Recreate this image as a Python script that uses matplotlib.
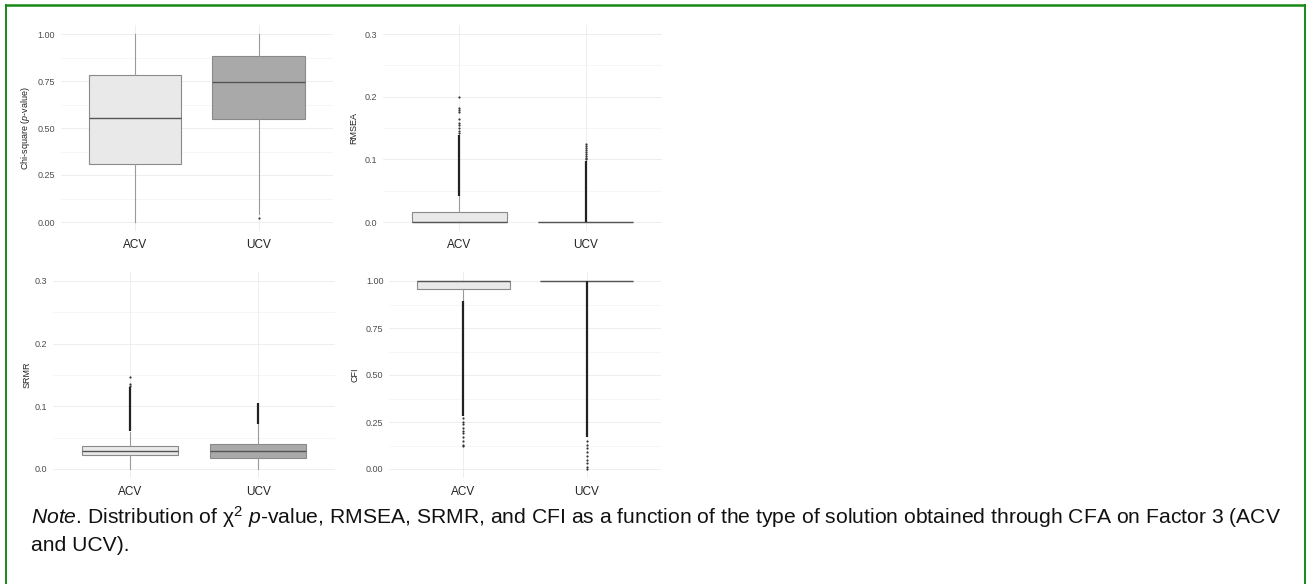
import matplotlib
matplotlib.use('agg')
import matplotlib.pyplot as plt
from matplotlib.lines import Line2D

plt.rcParams['font.family'] = ['Liberation Sans', 'DejaVu Sans']
plt.rcParams['mathtext.fontset'] = 'custom'
plt.rcParams['mathtext.rm'] = 'Liberation Sans'
plt.rcParams['mathtext.it'] = 'Liberation Sans:italic'

groups = ['ACV', 'UCV']

# box stats per index: [whislo, q1, med, q3, whishi] for ACV, UCV
chi_box = [[0.0, 0.306, 0.554, 0.781, 1.0], [0.04, 0.549, 0.745, 0.883, 1.0]]
rmsea_box = [[0.0, 0.0, 0.0, 0.0165, 0.041], [0.0, 0.0, 0.0, 0.0, 0.0]]
srmr_box = [[0.0, 0.0218, 0.029, 0.037, 0.059], [0.0, 0.018, 0.0287, 0.040, 0.072]]
cfi_box = [[0.895, 0.958, 1.0, 1.0, 1.0], [1.0, 1.0, 1.0, 1.0, 1.0]]

# dense outlier bands (low, high) and sparse outliers
chi_dense = [None, None]
chi_sparse = [[], [0.022]]
rmsea_dense = [(0.042, 0.139), (0.0, 0.098)]
rmsea_sparse = [[0.199, 0.182, 0.179, 0.176, 0.164, 0.158, 0.154, 0.150, 0.146, 0.142],
                [0.125, 0.122, 0.118, 0.115, 0.112, 0.108, 0.105, 0.102, 0.100]]
srmr_dense = [(0.060, 0.131), (0.072, 0.106)]
srmr_sparse = [[0.147, 0.136, 0.133], []]
cfi_dense = [(0.28, 0.895), (0.17, 0.998)]
cfi_sparse = [[0.27, 0.25, 0.24, 0.22, 0.20, 0.19, 0.17, 0.15, 0.13, 0.12],
              [0.15, 0.13, 0.11, 0.09, 0.07, 0.05, 0.03, 0.01, 0.0]]

panels = [
    ('Chi-square ($\\it{p}$-value)', chi_box, chi_dense, chi_sparse,
     [0, 0.25, 0.5, 0.75, 1.0], ['0.00', '0.25', '0.50', '0.75', '1.00'], (60.6, 24.6, 333.4, 231.4), 32),
    ('RMSEA', rmsea_box, rmsea_dense, rmsea_sparse,
     [0, 0.1, 0.2, 0.3], ['0.0', '0.1', '0.2', '0.3'], (383, 24.6, 662, 231.4), 358),
    ('SRMR', srmr_box, srmr_dense, srmr_sparse,
     [0, 0.1, 0.2, 0.3], ['0.0', '0.1', '0.2', '0.3'], (53, 271.6, 335, 478.4), 32),
    ('CFI', cfi_box, cfi_dense, cfi_sparse,
     [0, 0.25, 0.5, 0.75, 1.0], ['0.00', '0.25', '0.50', '0.75', '1.00'], (389, 271.6, 661, 478.4), 360),
]

fills = ['#e9e9e9', '#a9a9a9']
W, H = 1306, 584
fig = plt.figure(figsize=(W / 100, H / 100), dpi=100)

for ylab, box, dense, sparse, ticks, tlabels, (l, t, r, b), labx in panels:
    ax = fig.add_axes([l / W, 1 - b / H, (r - l) / W, (b - t) / H])
    span = ticks[-1] - ticks[0]
    ax.set_ylim(ticks[0] - 0.05 * span, ticks[-1] + 0.05 * span)
    ax.set_xlim(0.4, 2.6)
    minor = [(ticks[i] + ticks[i + 1]) / 2 for i in range(len(ticks) - 1)]
    for y in ticks:
        ax.axhline(y, color='#ebebeb', lw=0.6, zorder=0)
    for y in minor:
        ax.axhline(y, color='#f3f3f3', lw=0.5, zorder=0)
    for x in [1, 2]:
        ax.axvline(x, color='#ebebeb', lw=0.6, zorder=0)
    stats = []
    for i, g in enumerate(groups):
        s = box[i]
        stats.append({'whislo': s[0], 'q1': s[1], 'med': s[2], 'q3': s[3], 'whishi': s[4],
                      'label': g, 'fliers': []})
    bp = ax.bxp(stats, positions=[1, 2], widths=0.75, patch_artist=True, showfliers=False,
                showcaps=False,
                boxprops=dict(edgecolor='#8a8a8a', lw=0.8),
                whiskerprops=dict(color='#9a9a9a', lw=0.8),
                medianprops=dict(color='#555555', lw=1.0))
    for p, c in zip(bp['boxes'], fills):
        p.set_facecolor(c)
    for i in range(2):
        if dense[i] is not None:
            ax.vlines(i + 1, dense[i][0], dense[i][1], color='#222222', lw=1.6, zorder=4)
        if sparse[i]:
            ax.scatter([i + 1] * len(sparse[i]), sparse[i], s=2.5, color='#333333', zorder=4, lw=0)
    ax.set_yticks(ticks)
    ax.set_yticklabels(tlabels)
    ax.set_xticks([1, 2])
    ax.set_xticklabels(groups)
    ax.tick_params(axis='y', length=0, pad=4, labelsize=6.5, labelcolor='#4d4d4d')
    ax.tick_params(axis='x', length=0, pad=5.5, labelsize=8.5, labelcolor='#222222')
    for sp in ax.spines.values():
        sp.set_visible(False)
    ax.set_facecolor('none')
    ax.set_ylabel(ylab, fontsize=6.5, color='#222222')
    ax.yaxis.set_label_coords((labx - l) / (r - l), 0.5)

fig.text(31 / W, 1 - 524 / H,
         '$\\it{Note}$. Distribution of \u03c7$^{2}$ $\\it{p}$-value, RMSEA, SRMR, and CFI as a function of the type of '
         'solution obtained through CFA on Factor 3 (ACV',
         fontsize=15.2, va='baseline', ha='left', color='#111111')
fig.text(31 / W, 1 - 551 / H, 'and UCV).', fontsize=15.2, va='baseline', ha='left', color='#111111')

# green frame
def px(x, y):
    return x / W, 1 - y / H

for (x0, y0), (x1, y1), lw in [((6, 5), (1305, 5), 1.8), ((6, 5), (6, 584), 1.4), ((1305, 5), (1305, 584), 1.4)]:
    a, bb = px(x0, y0)
    c, d = px(x1, y1)
    fig.add_artist(Line2D([a, c], [bb, d], color='#178a17', lw=lw, transform=fig.transFigure))

fig.savefig('out.png', dpi=100)
